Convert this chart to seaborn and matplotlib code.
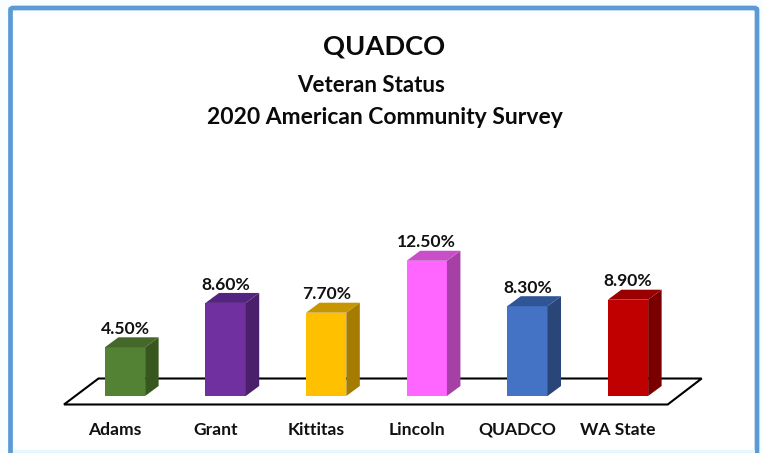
import matplotlib
matplotlib.use("Agg")
import matplotlib.pyplot as plt
from matplotlib.patches import Polygon, FancyBboxPatch, Rectangle
from matplotlib.transforms import ScaledTranslation
import pandas as pd
import seaborn as sns

categories = ["Adams", "Grant", "Kittitas", "Lincoln", "QUADCO", "WA State"]
values = [4.5, 8.6, 7.7, 12.5, 8.3, 8.9]
front_colors = ["#548235", "#7030A0", "#FFC000", "#FF66FF", "#4472C4", "#C00000"]
top_colors = ["#43682A", "#552480", "#C79500", "#C94FC9", "#2F5597", "#9A0000"]
side_colors = ["#37571F", "#4B206B", "#A67C00", "#A63FA6", "#2A4578", "#7A0000"]
titles = ["QUADCO", "Veteran Status", "2020 American Community Survey"]

W, H, DPI = 763, 453, 100
PX_X = 100.6   # pixels per category
PX_Y = 10.82   # pixels per percent
BASE = 396.0   # pixel row of value 0
C0 = 125.0     # pixel column of first category
DX, DY = 13.5, 10.0

sns.set_theme(style="white")
plt.rcParams["font.family"] = ["Lato", "DejaVu Sans"]
plt.rcParams["font.weight"] = "bold"

fig = plt.figure(figsize=(W / DPI, H / DPI), dpi=DPI, facecolor="#F8FEFF")

def px(x, y):
    return x / W, 1 - y / H

frame = FancyBboxPatch(px(10.5, 477), (757 - 10.5) / W, (477 - 8) / H,
                       boxstyle="round,pad=0,rounding_size=0.004",
                       transform=fig.transFigure, facecolor="white",
                       edgecolor="#5B9BD5", linewidth=3.4, zorder=0)
fig.add_artist(frame)
strip = Rectangle(px(12.5, 453), (755 - 12.5) / W, 3 / H, transform=fig.transFigure,
                  facecolor="#E3F7FC", edgecolor="none", zorder=0.5)
fig.add_artist(strip)
floor = Polygon([px(64, 404.5), px(98.5, 378.5), px(701.7, 378.5), px(667.7, 404.5)],
                closed=True, transform=fig.transFigure, facecolor="white",
                edgecolor="black", linewidth=1.5, zorder=1)
fig.add_artist(floor)

ax = fig.add_axes([0, 0, 1, 1], facecolor="none", zorder=2)
df = pd.DataFrame({"county": categories, "pct": values})
sns.barplot(data=df, x="county", y="pct", hue="county", palette=front_colors,
            order=categories, hue_order=categories, legend=False, width=0.4,
            saturation=1, ax=ax, linewidth=0)
ax.set_xlim(-C0 / PX_X, (W - C0) / PX_X)
ax.set_ylim((BASE - H) / PX_Y, BASE / PX_Y)
ax.set_xlabel("")
ax.set_ylabel("")
ax.set_yticks([])
ax.set_xticks(range(len(categories)), categories)
for s in ax.spines.values():
    s.set_visible(False)

dx, dy = DX / PX_X, DY / PX_Y
for i, cont in enumerate(ax.containers):
    bar = cont[0]
    x0, w, h = bar.get_x(), bar.get_width(), bar.get_height()
    x1 = x0 + w
    ax.add_patch(Polygon([(x1, 0), (x1 + dx, dy), (x1 + dx, h + dy), (x1, h)],
                         facecolor=side_colors[i], edgecolor="none", zorder=3))
    ax.add_patch(Polygon([(x0, h), (x0 + dx, h + dy), (x1 + dx, h + dy), (x1, h)],
                         facecolor=top_colors[i], edgecolor="none", zorder=3))
    bar.set_zorder(3)
    ax.bar_label(cont, labels=[f"{values[i]:.2f}%"], padding=7.5, fontsize=12.6,
                 fontweight="bold", color="#111111", zorder=4)

off = ScaledTranslation(-10 / DPI, 0, fig.dpi_scale_trans)
ax.tick_params(axis="x", length=0, direction="in", pad=-13, labelsize=12.6)
for lab in ax.get_xticklabels():
    lab.set_transform(lab.get_transform() + off)
    lab.set_verticalalignment("baseline")
    lab.set_fontweight("bold")
    lab.set_color("#111111")

title_rows = [46, 85, 118]
title_xs = [384.5, 371, 384.5]
title_sizes = [19.7, 16, 16.5]
for t, yy, xx, sz in zip(titles, title_rows, title_xs, title_sizes):
    fx, fy = px(xx, yy)
    fig.text(fx, fy, t, ha="center", va="center", fontsize=sz, fontweight="bold",
             color="#0A0A0A", zorder=5)

fig.savefig("out.png", dpi=DPI, facecolor=fig.get_facecolor())
